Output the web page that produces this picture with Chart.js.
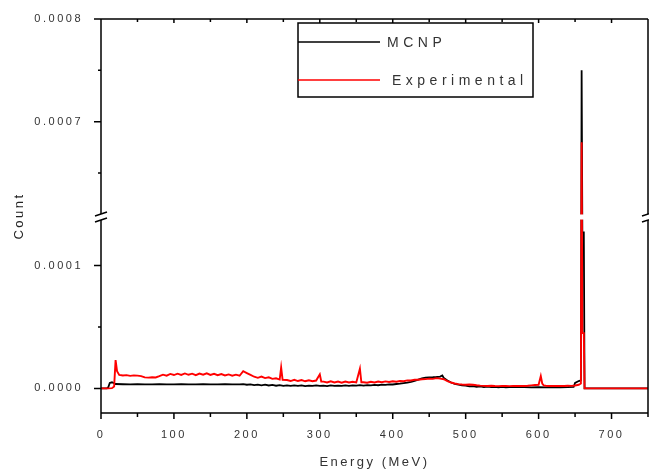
<!DOCTYPE html>
<html>
<head>
<meta charset="utf-8">
<script src="https://cdn.jsdelivr.net/npm/chart.js@4.4.1/dist/chart.umd.min.js"></script>
<style>
html,body{margin:0;padding:0;background:#fff;}
#wrap{width:649px;height:473px;}
</style>
</head>
<body>
<div id="wrap"><canvas id="c" width="649" height="473"></canvas></div>
<script>
// ---------------- data ----------------
const seriesNames = ['MCNP', 'Experimental'];

const energyMCNP = [0,8,10,12,15,18,20,30,40,50,60,70,80,90,100,110,120,130,140,150,160,170,180,190,195,200,205,210,215,220,225,230,235,240,245,250,255,260,265,270,275,280,285,290,295,300,305,310,315,320,325,330,335,340,345,350,355,360,365,370,375,380,385,390,395,400,405,410,415,420,425,430,435,440,445,450,455,460,465,468,470,475,480,485,490,495,500,505,510,515,520,525,530,535,540,545,550,555,560,570,580,590,600,610,620,630,640,648,650,655,658,659,660,662,663,700,750];
const countMCNP = [0,0,1.0e-6,4.5e-6,5.0e-6,4.2e-6,3.6e-6,3.4e-6,3.3e-6,3.4e-6,3.3e-6,3.3e-6,3.4e-6,3.3e-6,3.3e-6,3.4e-6,3.3e-6,3.3e-6,3.4e-6,3.3e-6,3.3e-6,3.4e-6,3.3e-6,3.3e-6,3.5e-6,3.0e-6,3.3e-6,2.7e-6,3.1e-6,2.5e-6,3.0e-6,2.4e-6,2.8e-6,2.2e-6,2.7e-6,2.1e-6,2.5e-6,2.0e-6,2.4e-6,2.1e-6,2.5e-6,1.9e-6,2.3e-6,2.0e-6,2.4e-6,2.0e-6,2.3e-6,1.9e-6,2.4e-6,2.0e-6,2.3e-6,2.0e-6,2.4e-6,2.1e-6,2.5e-6,2.2e-6,2.6e-6,2.3e-6,2.7e-6,2.4e-6,2.9e-6,2.6e-6,3.1e-6,2.9e-6,3.3e-6,3.2e-6,3.6e-6,3.9e-6,4.3e-6,4.7e-6,5.4e-6,6.2e-6,7.2e-6,8.2e-6,8.8e-6,9.0e-6,9.1e-6,9.3e-6,9.6e-6,10.5e-6,8.5e-6,6.5e-6,4.8e-6,3.6e-6,3.0e-6,2.4e-6,2.2e-6,1.6e-6,1.9e-6,1.3e-6,1.6e-6,1.1e-6,1.4e-6,1.0e-6,1.3e-6,0.9e-6,1.2e-6,0.9e-6,1.1e-6,1.0e-6,1.0e-6,0.9e-6,1.0e-6,0.9e-6,1.0e-6,0.9e-6,1.0e-6,1.2e-6,4.5e-6,6.0e-6,6.5e-6,750e-6,127e-6,127e-6,0,0,0];

const energyExp = [0,5,10,15,18,20,22,25,30,35,40,45,50,55,60,65,70,75,
  80,85,90,95,100,105,110,115,120,125,130,135,140,145,150,155,160,165,170,175,180,185,190,
  195,200,205,
  210,215,220,225,230,235,240,245,
  247,249,
  255,260,265,270,275,280,285,290,295,
  300,302,
  305,310,315,320,325,330,335,340,345,350,
  355,357,
  360,365,370,375,380,385,390,395,400,405,410,415,420,425,430,435,440,445,450,455,460,465,
  470,475,480,485,490,495,500,505,510,515,520,525,530,535,540,545,550,555,560,565,570,575,580,585,590,595,600,
  603,605,607,
  610,615,620,625,630,635,640,645,650,655,658,
  659,660,662,663,700,750];
const countExp = [0,0,0,0.2e-6,1.5e-6,23e-6,14e-6,11e-6,10.5e-6,10.8e-6,10.2e-6,10.6e-6,10.4e-6,10.0e-6,9.0e-6,8.8e-6,9.1e-6,8.9e-6,
  10.0e-6,11.2e-6,10.4e-6,11.8e-6,10.9e-6,12.0e-6,11.0e-6,12.2e-6,11.1e-6,12.0e-6,10.8e-6,12.1e-6,11.2e-6,12.3e-6,11.0e-6,11.9e-6,10.8e-6,11.7e-6,10.6e-6,11.4e-6,10.4e-6,11.2e-6,10.3e-6,
  14.0e-6,12.5e-6,11.0e-6,
  9.5e-6,8.6e-6,9.6e-6,8.4e-6,9.0e-6,7.8e-6,8.2e-6,7.2e-6,
  17e-6,7.0e-6,
  6.8e-6,6.0e-6,7.0e-6,6.0e-6,6.8e-6,5.8e-6,6.6e-6,5.9e-6,6.4e-6,
  11.5e-6,5.6e-6,
  5.5e-6,4.8e-6,5.8e-6,4.8e-6,5.6e-6,4.7e-6,5.6e-6,4.8e-6,5.4e-6,4.9e-6,
  16e-6,5.0e-6,
  5.0e-6,4.6e-6,5.4e-6,4.8e-6,5.6e-6,5.0e-6,5.7e-6,5.2e-6,5.8e-6,5.4e-6,6.0e-6,5.8e-6,6.5e-6,6.4e-6,7.0e-6,7.0e-6,7.4e-6,7.6e-6,8.0e-6,7.8e-6,8.4e-6,8.0e-6,
  7.5e-6,6.0e-6,4.8e-6,4.0e-6,3.5e-6,3.2e-6,3.0e-6,3.2e-6,3.0e-6,2.6e-6,2.3e-6,2.1e-6,2.0e-6,2.2e-6,2.0e-6,1.9e-6,2.0e-6,2.1e-6,1.9e-6,2.0e-6,2.0e-6,2.1e-6,2.0e-6,2.2e-6,2.5e-6,2.8e-6,3.0e-6,
  10e-6,4.0e-6,2.5e-6,
  2.2e-6,2.0e-6,2.0e-6,2.1e-6,2.0e-6,2.0e-6,2.2e-6,2.1e-6,2.4e-6,3.0e-6,4.0e-6,
  680e-6,45e-6,45e-6,0,0,0];

const xMajorTicks = [0,100,200,300,400,500,600,700];
const xMinorTicks = [50,150,250,350,450,550,650,750];
const yMajorTicks = [0, 0.0001, 0.0007, 0.0008];
const yMinorTicks = [0.00005, 0.00065, 0.00075];

// broken y axis: lower and upper value ranges, and share of the plot height each takes
const yLowerRange = [-0.00002, 0.000137];
const yUpperRange = [0.00061, 0.0008];
const yLowerShare = 0.4898;
const yUpperShare = 0.4949;

// ---------------- broken linear scale ----------------
class BrokenLinearScale extends Chart.LinearScale {
  getPixelForValue(value) {
    if (value === null || value === undefined || Number.isNaN(+value)) return NaN;
    const h = this.bottom - this.top;
    const lowPx = h * yLowerShare, highPx = h * yUpperShare;
    const lowTop = this.bottom - lowPx, highBottom = this.top + highPx;
    if (value <= yLowerRange[1]) return this.bottom - (value - yLowerRange[0]) / (yLowerRange[1] - yLowerRange[0]) * lowPx;
    if (value >= yUpperRange[0]) return highBottom - (value - yUpperRange[0]) / (yUpperRange[1] - yUpperRange[0]) * highPx;
    return lowTop - (value - yLowerRange[1]) / (yUpperRange[0] - yLowerRange[1]) * (lowTop - highBottom);
  }
  getValueForPixel(pixel) {
    const h = this.bottom - this.top;
    const lowPx = h * yLowerShare, highPx = h * yUpperShare;
    const lowTop = this.bottom - lowPx, highBottom = this.top + highPx;
    if (pixel >= lowTop) return yLowerRange[0] + (this.bottom - pixel) / lowPx * (yLowerRange[1] - yLowerRange[0]);
    if (pixel <= highBottom) return yUpperRange[0] + (highBottom - pixel) / highPx * (yUpperRange[1] - yUpperRange[0]);
    return yLowerRange[1] + (lowTop - pixel) / (lowTop - highBottom) * (yUpperRange[0] - yLowerRange[1]);
  }
}
BrokenLinearScale.id = 'brokenLinear';
BrokenLinearScale.defaults = {};
Chart.register(BrokenLinearScale);

const FONT = '"Liberation Sans", Arial, sans-serif';
const TEXT_SPACING = '2.5px';

const spacingPlugin = {
  id: 'spacing',
  beforeLayout(chart) { chart.ctx.letterSpacing = TEXT_SPACING; },
  beforeDraw(chart) { chart.ctx.letterSpacing = TEXT_SPACING; }
};

const framePlugin = {
  id: 'frame',
  afterDatasetsDraw(chart) {
    const ctx = chart.ctx;
    const ca = chart.chartArea;
    const xs = chart.scales.x, ys = chart.scales.y;
    const gTop = ys.getPixelForValue(yUpperRange[0]);
    const gBot = ys.getPixelForValue(yLowerRange[1]);
    const gMid = (gTop + gBot) / 2;
    ctx.save();
    // gap band of the break
    ctx.fillStyle = '#fff';
    ctx.fillRect(ca.left - 9, gTop + 0.5, ca.right - ca.left + 18, gBot - gTop - 1);
    ctx.strokeStyle = '#000';
    ctx.lineWidth = 1.5;
    ctx.lineCap = 'butt';
    ctx.beginPath();
    // frame
    ctx.moveTo(ca.left, ca.top); ctx.lineTo(ca.right, ca.top);
    ctx.moveTo(ca.left, ca.bottom); ctx.lineTo(ca.right, ca.bottom);
    ctx.moveTo(ca.left, ca.top); ctx.lineTo(ca.left, gTop);
    ctx.moveTo(ca.left, gBot); ctx.lineTo(ca.left, ca.bottom);
    ctx.moveTo(ca.right, ca.top); ctx.lineTo(ca.right, gTop);
    ctx.moveTo(ca.right, gBot); ctx.lineTo(ca.right, ca.bottom);
    // x ticks: bottom outward, top inward
    xMajorTicks.forEach(v => { const p = xs.getPixelForValue(v);
      ctx.moveTo(p, ca.bottom); ctx.lineTo(p, ca.bottom + 6);
      ctx.moveTo(p, ca.top); ctx.lineTo(p, ca.top + 4); });
    xMinorTicks.forEach(v => { const p = xs.getPixelForValue(v);
      ctx.moveTo(p, ca.bottom); ctx.lineTo(p, ca.bottom + 4);
      ctx.moveTo(p, ca.top); ctx.lineTo(p, ca.top + 3); });
    // y ticks: left outward
    yMajorTicks.forEach(v => { const p = ys.getPixelForValue(v);
      ctx.moveTo(ca.left - 7, p); ctx.lineTo(ca.left, p); });
    yMinorTicks.forEach(v => { const p = ys.getPixelForValue(v);
      ctx.moveTo(ca.left - 3, p); ctx.lineTo(ca.left, p); });
    ctx.stroke();
    // break marks
    ctx.beginPath();
    [ca.left, ca.right].forEach(ax => {
      [-3, 3].forEach(o => {
        ctx.moveTo(ax - 6, gMid + o + 2);
        ctx.lineTo(ax + 6, gMid + o - 2);
      });
    });
    ctx.stroke();
    // legend
    const lx = 298, ly = 23, lw = 235, lh = 74;
    ctx.fillStyle = '#fff';
    ctx.fillRect(lx, ly, lw, lh);
    ctx.strokeStyle = '#000';
    ctx.lineWidth = 1.5;
    ctx.strokeRect(lx, ly, lw, lh);
    const ds = chart.data.datasets;
    const rows = [{y: 42, tx: 387}, {y: 80, tx: 392}];
    ds.forEach((d, i) => {
      ctx.beginPath();
      ctx.strokeStyle = d.borderColor;
      ctx.lineWidth = 1.6;
      ctx.moveTo(lx, rows[i].y); ctx.lineTo(380, rows[i].y);
      ctx.stroke();
      ctx.fillStyle = '#333';
      ctx.font = '14px ' + FONT;
      ctx.letterSpacing = '4.5px';
      ctx.textBaseline = 'middle';
      ctx.textAlign = 'left';
      ctx.fillText(d.label, rows[i].tx, rows[i].y + 1);
    });
    ctx.restore();
  }
};

const toPoints = (xs, ys) => xs.map((e, i) => ({x: e, y: ys[i]}));

new Chart(document.getElementById('c'), {
  type: 'line',
  data: {
    datasets: [
      { label: seriesNames[0], data: toPoints(energyMCNP, countMCNP), borderColor: '#000000', borderWidth: 1.8, pointRadius: 0, tension: 0, order: 1 },
      { label: seriesNames[1], data: toPoints(energyExp, countExp), borderColor: '#ff0000', borderWidth: 1.9, pointRadius: 0, tension: 0, order: 0 }
    ]
  },
  options: {
    responsive: false,
    animation: false,
    events: [],
    layout: { padding: { left: 0, right: 1, top: 19, bottom: 0 } },
    plugins: { legend: { display: false }, tooltip: { enabled: false } },
    scales: {
      x: {
        type: 'linear', min: 0, max: 750,
        grid: { display: false }, border: { display: false },
        afterBuildTicks: s => { s.ticks = xMajorTicks.map(v => ({value: v})); },
        afterFit: s => { s.height = 60; },
        ticks: { autoSkip: false, maxRotation: 0, padding: 7, color: '#333', font: { family: FONT, size: 11 }, callback: v => String(v) },
        title: { display: true, text: 'Energy (MeV)', color: '#333', font: { family: FONT, size: 13 }, padding: { top: 0, bottom: 3 } }
      },
      y: {
        type: 'brokenLinear', min: yLowerRange[0], max: yUpperRange[1],
        grid: { display: false }, border: { display: false },
        afterBuildTicks: s => { s.ticks = yMajorTicks.map(v => ({value: v})); },
        afterFit: s => { s.width = 101; },
        ticks: { autoSkip: false, padding: 10, color: '#333', font: { family: FONT, size: 11 }, callback: v => v.toFixed(4) },
        title: { display: true, text: 'Count', color: '#222', font: { family: FONT, size: 13 }, padding: { top: 12, bottom: 0 } }
      }
    }
  },
  plugins: [spacingPlugin, framePlugin]
});
</script>
</body>
</html>
